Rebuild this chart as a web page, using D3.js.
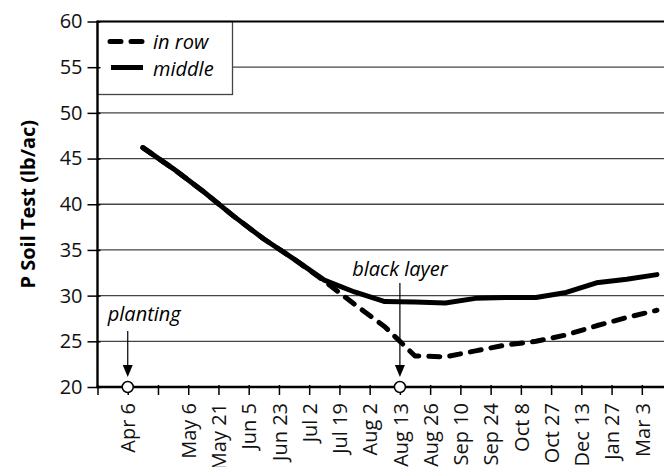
<!DOCTYPE html>
<html>
<head>
<meta charset="utf-8">
<script src="https://d3js.org/d3.v7.min.js"></script>
<style>
  body { margin: 0; background: #fff; }
  svg { display: block; font-family: "Open Sans", sans-serif; }
</style>
</head>
<body>
<svg id="chart" width="664" height="467"></svg>
<script>
// sampling dates (slot 2 has no label)
var categories = ["Apr 6", "", "May 6", "May 21", "Jun 5", "Jun 23", "Jul 2", "Jul 19", "Aug 2",
                  "Aug 13", "Aug 26", "Sep 10", "Sep 24", "Oct 8", "Oct 27", "Dec 13", "Jan 27", "Mar 3"];
var middle = [46.2, 43.9, 41.4, 38.7, 36.2, 34.0, 31.7, 30.4, 29.35, 29.3, 29.2, 29.7, 29.8, 29.8, 30.35, 31.4, 31.8, 32.3];
var inRow  = [46.2, 43.9, 41.4, 38.7, 36.2, 34.0, 31.6, 29.05, 26.6, 23.4, 23.3, 23.95, 24.6, 25.0, 25.7, 26.7, 27.6, 28.4];
var yTicks = [20, 25, 30, 35, 40, 45, 50, 55, 60];
var events = [{ label: "planting", cat: "Apr 6" }, { label: "black layer", cat: "Aug 13" }];

var svg = d3.select("#chart");
var pLeft = 97.5, pBottom = 387, pTop = 21.5, pRight = 664;

var x = d3.scaleLinear().domain([0, 18]).range([pLeft, pLeft + 30.24 * 18]);
var y = d3.scaleLinear().domain([20, 60]).range([pBottom, pTop]);

// gridlines
svg.append("g")
    .selectAll("line")
    .data(yTicks.filter(d => d > 20 && d < 60))
    .join("line")
    .attr("x1", pLeft).attr("x2", pRight)
    .attr("y1", d => y(d)).attr("y2", d => y(d))
    .attr("stroke", "#444").attr("stroke-width", 1.3);

// legend box (covers grid)
var lg = svg.append("g");
lg.append("rect")
    .attr("x", pLeft).attr("y", pTop)
    .attr("width", 135).attr("height", 73)
    .attr("fill", "#fff").attr("stroke", "#444").attr("stroke-width", 1.3);
lg.append("line")
    .attr("x1", 110).attr("x2", 143).attr("y1", 41.5).attr("y2", 41.5)
    .attr("stroke", "#000").attr("stroke-width", 5)
    .attr("stroke-dasharray", "11 10").attr("stroke-linecap", "round");
lg.append("line")
    .attr("x1", 111).attr("x2", 143).attr("y1", 67.5).attr("y2", 67.5)
    .attr("stroke", "#000").attr("stroke-width", 5);
lg.append("text").attr("x", 153).attr("y", 48.5)
    .attr("font-size", 20).attr("font-style", "italic").text("in row");
lg.append("text").attr("x", 153).attr("y", 75.5)
    .attr("font-size", 20).attr("font-style", "italic").text("middle");

// top frame line
svg.append("line")
    .attr("x1", pLeft).attr("x2", pRight).attr("y1", pTop).attr("y2", pTop)
    .attr("stroke", "#000").attr("stroke-width", 2.2);

// y axis
var yAxis = svg.append("g")
    .attr("transform", "translate(" + pLeft + ",0)")
    .call(d3.axisLeft(y).tickValues(yTicks).tickSize(10).tickPadding(5));
yAxis.select(".domain").remove();
yAxis.selectAll(".tick line").attr("x1", 3).attr("stroke-width", 1.5);
yAxis.selectAll("text").attr("font-size", 20).attr("fill", "#111").attr("font-family", "Open Sans");
svg.append("line")
    .attr("x1", pLeft).attr("x2", pLeft).attr("y1", pTop - 1).attr("y2", pBottom + 1)
    .attr("stroke", "#000").attr("stroke-width", 2.4);

// x axis
var xAxis = svg.append("g")
    .attr("transform", "translate(0," + pBottom + ")")
    .call(d3.axisBottom(x)
        .tickValues(d3.range(0, categories.length + 1))
        .tickSize(8)
        .tickFormat(i => i === 0 ? "" : categories[i - 1]));
xAxis.select(".domain").remove();
xAxis.selectAll(".tick line").attr("y1", -2).attr("stroke-width", 1.5);
xAxis.selectAll("text")
    .attr("font-size", 20).attr("fill", "#111").attr("font-family", "Open Sans")
    .attr("text-anchor", "end")
    .attr("transform", "rotate(-90)")
    .attr("x", -16).attr("y", 0).attr("dy", "0.36em");
svg.append("line")
    .attr("x1", pLeft - 1).attr("x2", pRight).attr("y1", pBottom).attr("y2", pBottom)
    .attr("stroke", "#000").attr("stroke-width", 2.4);

// axis title
svg.append("text")
    .attr("transform", "translate(35," + ((pTop + pBottom) / 2) + ") rotate(-90)")
    .attr("text-anchor", "middle")
    .attr("font-size", 20).attr("font-weight", "bold")
    .text("P Soil Test (lb/ac)");

// series lines
var line = d3.line()
    .x((d, i) => x(i + 1.5))
    .y(d => y(d));

svg.append("path")
    .datum(inRow)
    .attr("d", line)
    .attr("fill", "none").attr("stroke", "#000").attr("stroke-width", 5)
    .attr("stroke-dasharray", "11 10").attr("stroke-linecap", "round")
    .attr("stroke-linejoin", "round");

svg.append("path")
    .datum(middle)
    .attr("d", line)
    .attr("fill", "none").attr("stroke", "#000").attr("stroke-width", 5)
    .attr("stroke-linecap", "round").attr("stroke-linejoin", "round");

// event arrows and markers
var ev = svg.append("g").selectAll("g")
    .data(events)
    .join("g")
    .attr("transform", d => "translate(" + x(categories.indexOf(d.cat) + 1) + ",0)");

ev.append("line")
    .attr("x1", 0).attr("x2", 0)
    .attr("y1", d => d.label === "planting" ? 331 : 283)
    .attr("y2", 366)
    .attr("stroke", "#000").attr("stroke-width", 1.2);
ev.append("path")
    .attr("d", "M-5,365 L5,365 L0,377 Z")
    .attr("fill", "#000");
ev.append("circle")
    .attr("cy", pBottom).attr("r", 5.5)
    .attr("fill", "#fff").attr("stroke", "#000").attr("stroke-width", 1.5);
ev.append("text")
    .attr("x", d => d.label === "planting" ? -20 : 0)
    .attr("y", d => d.label === "planting" ? 321 : 276)
    .attr("text-anchor", d => d.label === "planting" ? "start" : "middle")
    .attr("font-size", 20).attr("font-style", "italic")
    .text(d => d.label);
</script>
</body>
</html>
